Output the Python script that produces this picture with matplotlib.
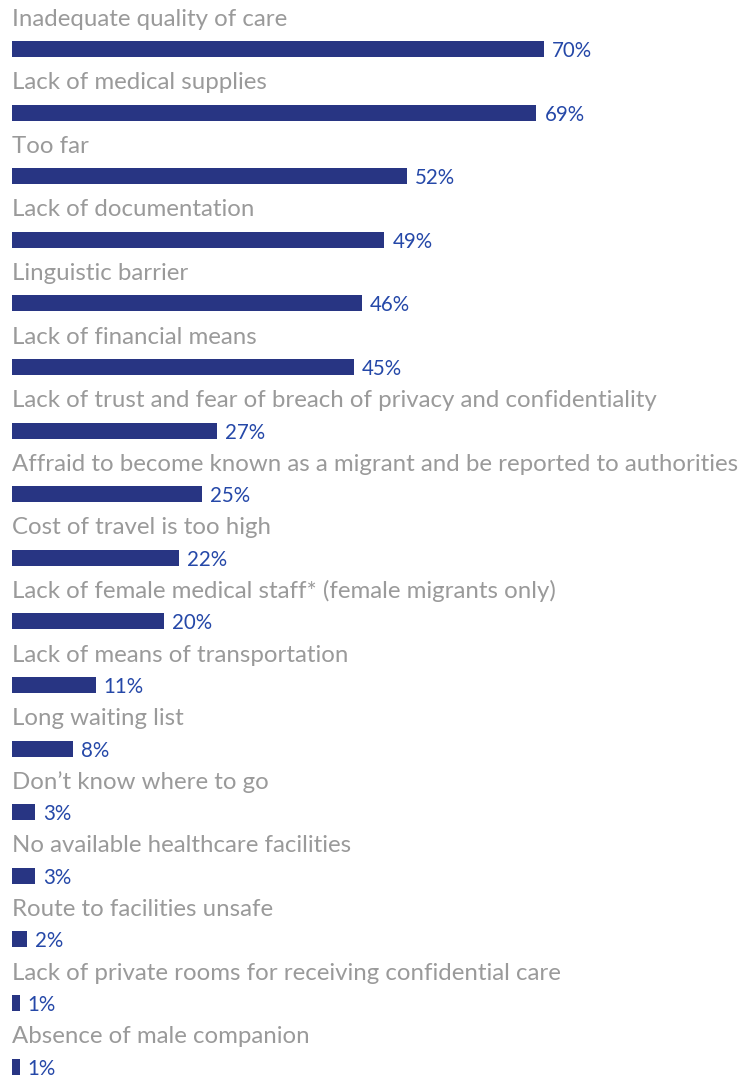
import matplotlib.pyplot as plt

categories = [
    "Inadequate quality of care",
    "Lack of medical supplies",
    "Too far",
    "Lack of documentation",
    "Linguistic barrier",
    "Lack of financial means",
    "Lack of trust and fear of breach of privacy and confidentiality",
    "Affraid to become known as a migrant and be reported to authorities",
    "Cost of travel is too high",
    "Lack of female medical staff* (female migrants only)",
    "Lack of means of transportation",
    "Long waiting list",
    "Don\u2019t know where to go",
    "No available healthcare facilities",
    "Route to facilities unsafe",
    "Lack of private rooms for receiving confidential care",
    "Absence of male companion",
]
percent = [70, 69, 52, 49, 46, 45, 27, 25, 22, 20, 11, 8, 3, 3, 2, 1, 1]

bar_color = "#283583"
value_color = "#2548a8"
label_color = "#9a9a9a"

W, H = 749, 1079
px_per_pct = 7.6
row_h = 63.6
first_row = 49
left = 12

fig = plt.figure(figsize=(W / 100, H / 100), dpi=100)
ax = fig.add_axes([0, 0, 1, 1])
ax.set_xlim(-left / px_per_pct, (W - left) / px_per_pct)
ax.set_ylim((H - first_row) / row_h, -first_row / row_h)
ax.axis("off")

rows = list(range(len(categories)))
ax.barh(rows, percent, height=16 / row_h, color=bar_color)

for i, (name, v) in enumerate(zip(categories, percent)):
    ax.text(0, i - 30 / row_h, name, fontsize=17.3, color=label_color,
            family="Lato", va="center", ha="left")
    ax.text(v + 8 / px_per_pct, i + 2 / row_h, f"{v}%", fontsize=14.8,
            color=value_color, family="Lato", va="center", ha="left")

fig.savefig("out.png", dpi=100)
